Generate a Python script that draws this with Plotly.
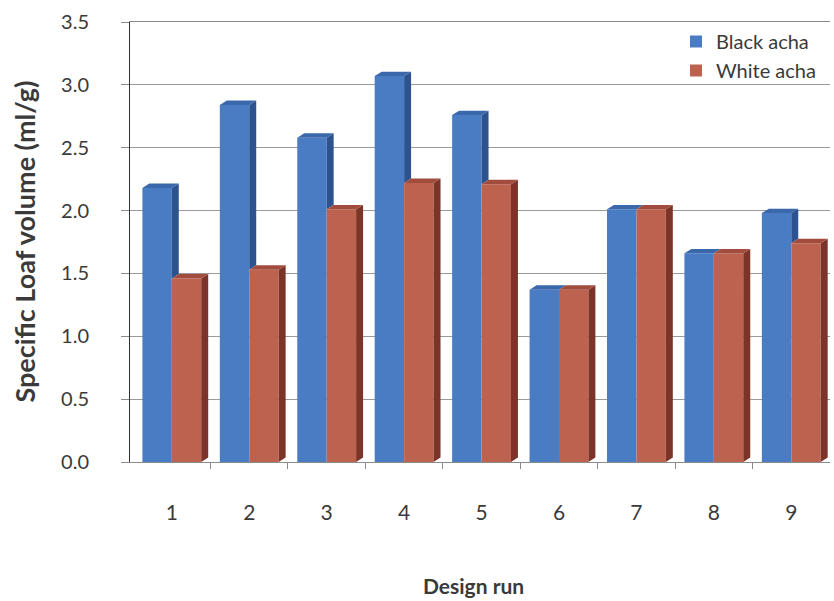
import plotly.graph_objects as go

# Specific loaf volume per design run
runs = [1, 2, 3, 4, 5, 6, 7, 8, 9]
run_labels = ["1", "2", "3", "4", "5", "6", "7", "8", "9"]
black_acha = [2.18, 2.84, 2.58, 3.07, 2.76, 1.37, 2.01, 1.66, 1.98]
white_acha = [1.46, 1.53, 2.01, 2.22, 2.21, 1.37, 2.01, 1.66, 1.74]
y_ticks = [0.0, 0.5, 1.0, 1.5, 2.0, 2.5, 3.0, 3.5]
run_boundaries = [1.5, 2.5, 3.5, 4.5, 5.5, 6.5, 7.5, 8.5]

BW = 0.38             # bar width (x units)
DX, DY = 0.09, 0.035  # depth of the pseudo-3D faces

blue_front, blue_side, blue_top = "#4A7CC4", "#2C5290", "#3A68AB"
red_front, red_side, red_top = "#BE6250", "#7C3428", "#A24C3E"

TXT = "#3a3a3a"
FONT = "Lato, Open Sans, sans-serif"


def side_faces(xs, vals, lows):
    px, py = [], []
    for x, v, lo in zip(xs, vals, lows):
        if lo >= v:
            continue
        px += [x, x + DX, x + DX, x, x, None]
        py += [lo, lo + DY, v + DY, v, lo, None]
    return px, py


def top_faces(xl, xr, vals):
    px, py = [], []
    for a, b, v in zip(xl, xr, vals):
        px += [a, a + DX, b + DX, b, a, None]
        py += [v, v + DY, v + DY, v, v, None]
    return px, py


def face(px, py, color):
    return go.Scatter(x=px, y=py, mode="lines", fill="toself",
                      fillcolor=color, line=dict(width=0, color=color),
                      showlegend=False, hoverinfo="skip")


fig = go.Figure()

# front faces of the bars
fig.add_trace(go.Bar(x=runs, y=black_acha, width=BW, offset=-BW,
                     marker=dict(color=blue_front, line=dict(width=0)),
                     name="Black acha"))
fig.add_trace(go.Bar(x=runs, y=white_acha, width=BW, offset=0,
                     marker=dict(color=red_front, line=dict(width=0)),
                     name="White acha"))

# Black acha: side face shows only above the neighbouring White acha bar
fig.add_trace(face(*side_faces(runs, black_acha, white_acha), blue_side))
fig.add_trace(face(*top_faces([x - BW for x in runs], runs, black_acha), blue_top))

# White acha: full side face and top face
fig.add_trace(face(*side_faces([x + BW for x in runs], white_acha,
                               [0] * len(runs)), red_side))
fig.add_trace(face(*top_faces(runs, [x + BW for x in runs], white_acha), red_top))

fig.update_layout(
    width=834, height=601,
    margin=dict(l=130, r=4, t=22, b=139),
    paper_bgcolor="white", plot_bgcolor="white",
    font=dict(family=FONT, color=TXT),
    showlegend=True,
    legend=dict(x=0.78, y=1.0, xanchor="left", yanchor="top",
                font=dict(size=20, color=TXT), bgcolor="rgba(255,255,255,0)",
                tracegroupgap=0),
    xaxis=dict(range=[0.46, 9.5], tickmode="array", tickvals=runs,
               ticktext=run_labels, tickfont=dict(size=21, color=TXT),
               ticklabelstandoff=32, showgrid=False, zeroline=False,
               showline=True, linecolor="#8c8c8c", linewidth=1, mirror=True,
               ticks="",
               minor=dict(tickmode="array", tickvals=run_boundaries,
                          ticks="outside", ticklen=6, tickcolor="#8c8c8c",
                          showgrid=False)),
    yaxis=dict(range=[0, 3.5], tickmode="array", tickvals=y_ticks,
               ticktext=[f"{v:.1f}" for v in y_ticks],
               tickfont=dict(size=20, color=TXT), ticklabelstandoff=28,
               showgrid=True, gridcolor="#9a9a9a", gridwidth=1,
               zeroline=False, showline=True, linecolor="#303030",
               linewidth=1, ticks="outside", ticklen=8, tickcolor="#8c8c8c"),
    annotations=[
        dict(text="<b>Specific Loaf volume (ml/g)</b>", xref="paper",
             yref="paper", x=-0.152, y=0.5, textangle=-90, showarrow=False,
             xanchor="center", yanchor="middle",
             font=dict(size=27, color=TXT, family=FONT)),
        dict(text="<b>Design run</b>", xref="paper", yref="paper",
             x=0.49, y=-0.28, showarrow=False,
             xanchor="center", yanchor="middle",
             font=dict(size=21, color=TXT, family=FONT)),
    ],
)

fig.write_html("out.html")
